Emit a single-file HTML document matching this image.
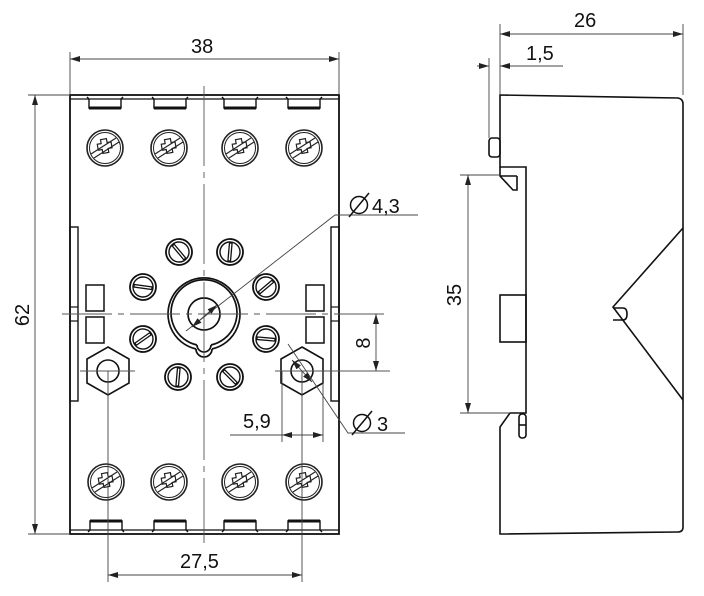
<!DOCTYPE html>
<html><head><meta charset="utf-8"><style>
html,body{margin:0;padding:0;background:#fff;}
svg{display:block;}
text{font-family:"Liberation Sans",sans-serif;font-size:20px;fill:#111;}
</style></head><body>
<svg width="704" height="596" viewBox="0 0 704 596" xmlns="http://www.w3.org/2000/svg">
<defs>
<g id="bs">
 <circle r="18" fill="none" stroke="#222" stroke-width="1.6"/>
 <circle r="15.5" fill="none" stroke="#222" stroke-width="1"/>
 <path d="M-3,-9 h6 v4 h4 v6 h-4 v4 h-6 v-4 h-4 v-6 h4z" fill="none" stroke="#222" stroke-width="1.2" transform="rotate(-10)"/>
 <line x1="-14" y1="6" x2="11" y2="-10" stroke="#222" stroke-width="1.2"/>
 <line x1="-11" y1="10" x2="14" y2="-6" stroke="#222" stroke-width="1.2"/>
</g>
<g id="ss">
 <circle r="13" fill="none" stroke="#111" stroke-width="1.8"/>
 <circle r="10" fill="none" stroke="#111" stroke-width="1.4"/>
 <rect x="-9" y="-1.3" width="18" height="2.6" fill="none" stroke="#111" stroke-width="1.3"/>
</g>
<g id="tabT">
 <path d="M-18,97 L-16,99 L-16,108 L16,108 L16,99 L18,97" fill="none" stroke="#111" stroke-width="1.4"/>
 <line x1="-16" y1="108" x2="16" y2="108" stroke="#111" stroke-width="3"/>
</g>
<marker id="ar" viewBox="0 0 10 6" refX="10" refY="3" markerWidth="10" markerHeight="6" orient="auto-start-reverse" markerUnits="userSpaceOnUse"><path d="M0,0 L10,3 L0,6 z" fill="#222"/></marker>
<g id="hex">
 <polygon points="0,-24 21,-12 21,12 0,24 -21,12 -21,-12" fill="#fff" stroke="#111" stroke-width="1.6"/>
 <circle r="11" fill="none" stroke="#111" stroke-width="1.6"/>
</g>
</defs>

<!-- FRONT VIEW -->
<g stroke="#111" fill="none">
 <rect x="70" y="95" width="269" height="439" stroke-width="1.8"/>
 <line x1="70" y1="99" x2="339" y2="99" stroke-width="1.2"/>
 <line x1="70" y1="530" x2="339" y2="530" stroke-width="1.2"/>
 <rect x="70" y="227" width="8" height="174" stroke-width="1.4"/>
 <rect x="331" y="227" width="8" height="174" stroke-width="1.4"/>
 <line x1="70" y1="307" x2="78" y2="307" stroke-width="1.2"/><line x1="70" y1="321" x2="78" y2="321" stroke-width="1.2"/>
 <line x1="331" y1="307" x2="339" y2="307" stroke-width="1.2"/><line x1="331" y1="321" x2="339" y2="321" stroke-width="1.2"/>
 <rect x="86" y="285" width="18" height="26" stroke-width="1.5"/>
 <rect x="86" y="317" width="18" height="26" stroke-width="1.5"/>
 <rect x="306" y="285" width="18" height="26" stroke-width="1.5"/>
 <rect x="306" y="317" width="18" height="26" stroke-width="1.5"/>
</g>
<use href="#tabT" x="105"/><use href="#tabT" x="170"/><use href="#tabT" x="240"/><use href="#tabT" x="304"/>
<g transform="translate(0,629) scale(1,-1)"><use href="#tabT" x="106"/><use href="#tabT" x="170"/><use href="#tabT" x="240"/><use href="#tabT" x="304"/></g>
<use href="#bs" x="105" y="148"/><use href="#bs" x="169" y="148"/><use href="#bs" x="240" y="148"/><use href="#bs" x="304" y="148"/>
<use href="#bs" x="106" y="482"/><use href="#bs" x="169" y="482"/><use href="#bs" x="240" y="482"/><use href="#bs" x="304" y="482"/>

<g stroke="#111" fill="none" stroke-width="1.7">
 <path d="M196,349 A36,36 0 1 1 212,349" />
 <path d="M197,345 A33,33 0 1 1 211,345" />
 <path d="M196,349 A8,8 0 0 0 212,349"/>
 <path d="M197,345 A7,7 0 0 0 211,345"/>
 <circle cx="204" cy="314" r="16"/>
</g>
<g transform="translate(179,252) rotate(50)"><use href="#ss"/></g>
<g transform="translate(230,252) rotate(95)"><use href="#ss"/></g>
<g transform="translate(143,287) rotate(8)"><use href="#ss"/></g>
<g transform="translate(266,287) rotate(-40)"><use href="#ss"/></g>
<g transform="translate(143,339) rotate(-35)"><use href="#ss"/></g>
<g transform="translate(266,339) rotate(5)"><use href="#ss"/></g>
<g transform="translate(178,377) rotate(95)"><use href="#ss"/></g>
<g transform="translate(230,377) rotate(45)"><use href="#ss"/></g>
<use href="#hex" x="108" y="371"/>
<use href="#hex" x="302" y="371"/>

<g stroke="#555" stroke-width="0.9" fill="none">
 <line x1="204" y1="86" x2="204" y2="543" stroke-dasharray="80,6,6,6"/>
 <line x1="62" y1="314" x2="390" y2="314" stroke-dasharray="50,6,6,6"/>
 <line x1="80" y1="371" x2="135" y2="371"/>
 <line x1="275" y1="371" x2="390" y2="371"/>
</g>

<g stroke="#444" stroke-width="0.9" fill="none">
 <line x1="70" y1="52" x2="70" y2="95"/><line x1="339" y1="52" x2="339" y2="95"/>
 <line x1="70" y1="59" x2="339" y2="59" marker-start="url(#ar)" marker-end="url(#ar)"/>
 <line x1="28" y1="95" x2="70" y2="95"/><line x1="28" y1="534" x2="70" y2="534"/>
 <line x1="35" y1="95" x2="35" y2="534" marker-start="url(#ar)" marker-end="url(#ar)"/>
 <line x1="108" y1="371" x2="108" y2="582"/><line x1="302" y1="371" x2="302" y2="582"/>
 <line x1="108" y1="575" x2="302" y2="575" marker-start="url(#ar)" marker-end="url(#ar)"/>
 <line x1="376" y1="314" x2="376" y2="371" marker-start="url(#ar)" marker-end="url(#ar)"/>
 <line x1="282" y1="371" x2="282" y2="442"/><line x1="323" y1="371" x2="323" y2="442"/>
 <line x1="230" y1="435" x2="282" y2="435"/>
 <line x1="282" y1="435" x2="323" y2="435" marker-start="url(#ar)" marker-end="url(#ar)"/>
 <polyline points="288,344 348,433 405,433"/>
 <line x1="292" y1="360" x2="312" y2="382" marker-start="url(#ar)" marker-end="url(#ar)"/>
 <polyline points="186,331 335,215 418,215"/>
 <line x1="192" y1="327" x2="217" y2="305" marker-start="url(#ar)" marker-end="url(#ar)"/>
</g>
<text x="191" y="53">38</text>
<text x="180" y="568">27,5</text>
<text x="243" y="428">5,9</text>
<text x="377" y="431">3</text>
<text x="372" y="213">4,3</text>
<g stroke="#111" stroke-width="1.5" fill="none">
 <circle cx="362" cy="423" r="8.5"/><line x1="352" y1="435" x2="372" y2="411"/>
 <circle cx="359" cy="205" r="8.5"/><line x1="349" y1="217" x2="369" y2="193"/>
</g>
<text transform="translate(29,315) rotate(-90)" text-anchor="middle">62</text>
<text transform="translate(370,343) rotate(-90)" text-anchor="middle">8</text>

<!-- SIDE VIEW -->
<g stroke="#111" fill="none" stroke-width="1.6">
 <path d="M500,95 L678,98 Q683,99 683,104 L683,527 Q683,532 678,532 L500,534 L500,427 L510,413 L526,413 L526,167 L500,167 Z"/>
 <path d="M500,167 L500,176 L513,190 L517,190 L517,176"/>
 <line x1="517" y1="176" x2="500" y2="176"/>
 <rect x="489" y="138" width="11" height="19" rx="3"/>
 <rect x="500" y="295" width="26" height="47"/>
 <polyline points="683,228 613,307 683,400"/>
 <path d="M613,308 L623,308 Q627,308 627,314 Q627,320 623,320 L613,320"/>
 <rect x="519" y="414" width="7" height="24" rx="3"/>
 <line x1="519" y1="425" x2="526" y2="425"/>
</g>
<g stroke="#444" stroke-width="0.9" fill="none">
 <line x1="500" y1="24" x2="500" y2="95"/><line x1="683" y1="24" x2="683" y2="95"/>
 <line x1="500" y1="34" x2="683" y2="34" marker-start="url(#ar)" marker-end="url(#ar)"/>
 <line x1="489" y1="58" x2="489" y2="138"/>
 <line x1="477" y1="66" x2="489" y2="66" marker-end="url(#ar)"/>
 <line x1="500" y1="66" x2="563" y2="66" marker-start="url(#ar)"/>
 <line x1="460" y1="175" x2="500" y2="175"/><line x1="460" y1="413" x2="510" y2="413"/>
 <line x1="468" y1="175" x2="468" y2="413" marker-start="url(#ar)" marker-end="url(#ar)"/>
</g>
<text x="574" y="27">26</text>
<text x="526" y="60">1,5</text>
<text transform="translate(461,295) rotate(-90)" text-anchor="middle">35</text>
</svg>
</body></html>
